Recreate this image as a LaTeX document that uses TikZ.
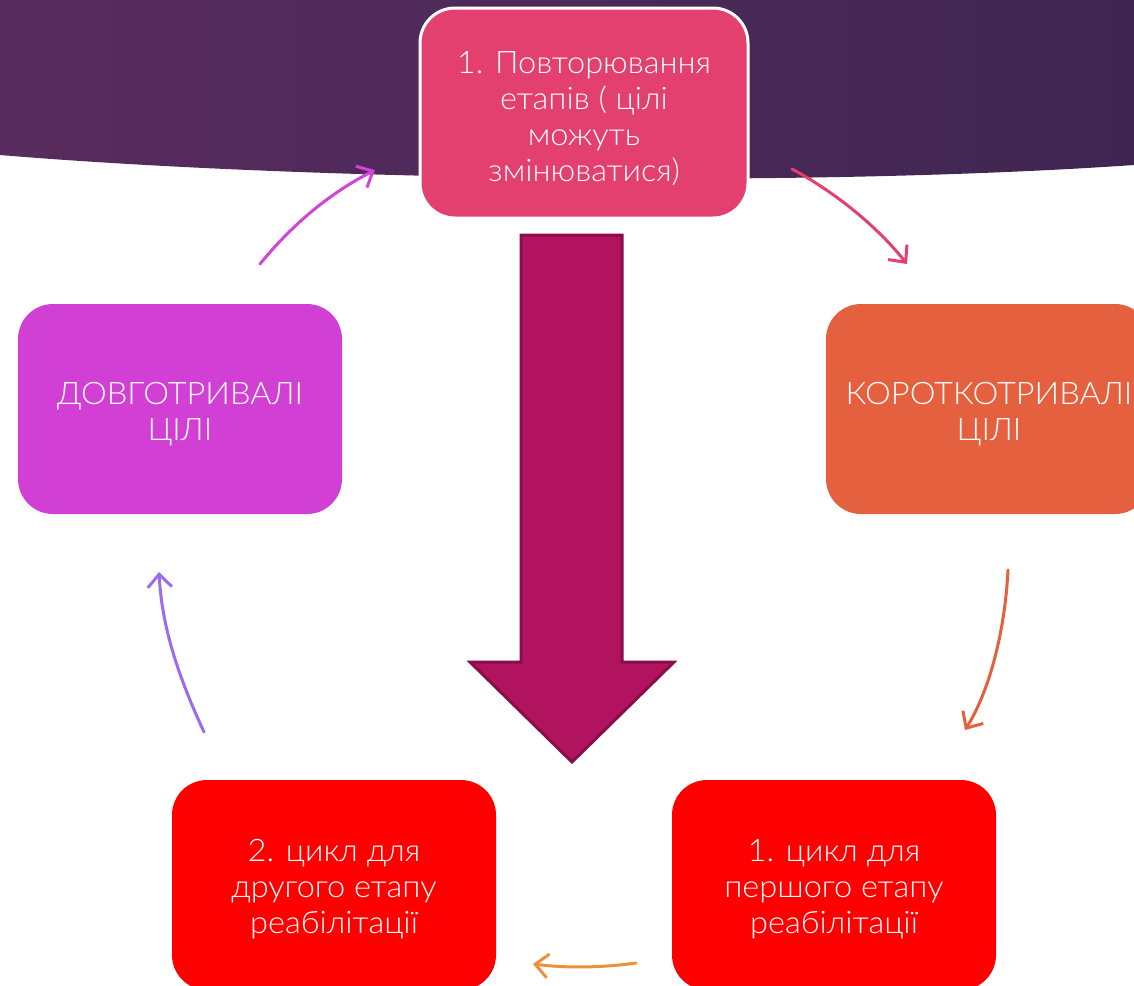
\documentclass[tikz,border=0pt]{standalone}
\usepackage{fontspec}
\setmainfont{Lato Light}[FakeStretch=1.05]
\usetikzlibrary{arrows.meta}
\definecolor{bandL}{HTML}{582C5E}
\definecolor{bandM}{HTML}{6C3264}
\definecolor{bandR}{HTML}{3F2652}
\definecolor{cTop}{HTML}{E3406F}
\definecolor{cLeft}{HTML}{D23FD4}
\definecolor{cRight}{HTML}{E5603E}
\definecolor{cRed}{HTML}{FF0000}
\definecolor{bigFill}{HTML}{B2135F}
\definecolor{bigLine}{HTML}{8A0C4A}
\definecolor{aMag}{HTML}{D243D6}
\definecolor{aPink}{HTML}{E33F6F}
\definecolor{aOrRed}{HTML}{E5603E}
\definecolor{aOrange}{HTML}{E8923A}
\definecolor{aViolet}{HTML}{9E6BEF}
\tikzset{
  box/.style={rounded corners=35pt, minimum width=324pt, minimum height=210pt, inner sep=0pt},
  txt/.style={text=white, align=center, inner sep=0pt, font=\fontsize{31}{36}\selectfont},
  cyc/.style={line width=3pt, line cap=round, -{Straight Barb[length=13pt,width=24pt,line width=3pt]}}
}
\begin{document}
\begin{tikzpicture}[x=1pt,y=-1pt]
\useasboundingbox (0,0) rectangle (1134,985);
\clip (0,0) rectangle (1134,985);
% background band
\shade[left color=bandL, middle color=bandM, right color=bandR]
  (0,0) -- (1134,0) -- (1134,165) .. controls (800,188) and (300,180) .. (0,155) -- cycle;
% big arrow
\draw[fill=bigFill, draw=bigLine, line width=3pt, line join=miter]
  (521,235) -- (622,235) -- (622,662) -- (674,662) -- (572,762) -- (470,662) -- (521,662) -- cycle;
% boxes
\node[box, fill=cTop, draw=white, line width=3pt, minimum width=328pt] (top) at (584,113) {};
\node[box, fill=cLeft] (long) at (180,409) {};
\node[box, fill=cRight] (short) at (988,409) {};
\node[box, fill=cRed] (c2) at (334,885) {};
\node[box, fill=cRed] (c1) at (834,885) {};
% texts
\node[txt] (topT) at ([yshift=-6pt]top.center) {1. Повторювання\\етапів ( цілі\\можуть\\змінюватися)};
\node[txt] (longT) at ([yshift=-5pt]long.center) {ДОВГОТРИВАЛІ\\ЦІЛІ};
\node[txt] (shortT) at ([xshift=1pt,yshift=-5pt]short.center) {КОРОТКОТРИВАЛІ\\ЦІЛІ};
\node[txt] (c2T) at ([yshift=-4pt]c2.center) {2. цикл для\\другого етапу\\реабілітації};
\node[txt] (c1T) at ([yshift=-4pt]c1.center) {1. цикл для\\першого етапу\\реабілітації};
% connector end points
\coordinate (a1s) at (260,264); \coordinate (a1e) at (375,170);
\coordinate (a2s) at (792,169); \coordinate (a2e) at (907,264);
\coordinate (a3s) at (1008,570); \coordinate (a3e) at (965,730);
\coordinate (a4s) at (636,963); \coordinate (a4e) at (533,964);
\coordinate (a5s) at (204,732); \coordinate (a5e) at (159,572);
\draw[cyc, aMag] (a1s) .. controls (300,215) and (340,188) .. (a1e);
\draw[cyc, aPink] (a2s) .. controls (840,195) and (880,230) .. (a2e);
\draw[cyc, aOrRed] (a3s) .. controls (1005,630) and (990,690) .. (a3e);
\draw[cyc, aOrange] (a4s) .. controls (600,968) and (565,968) .. (a4e);
\draw[cyc, aViolet] (a5s) .. controls (180,680) and (162,630) .. (a5e);
\end{tikzpicture}
\end{document}
